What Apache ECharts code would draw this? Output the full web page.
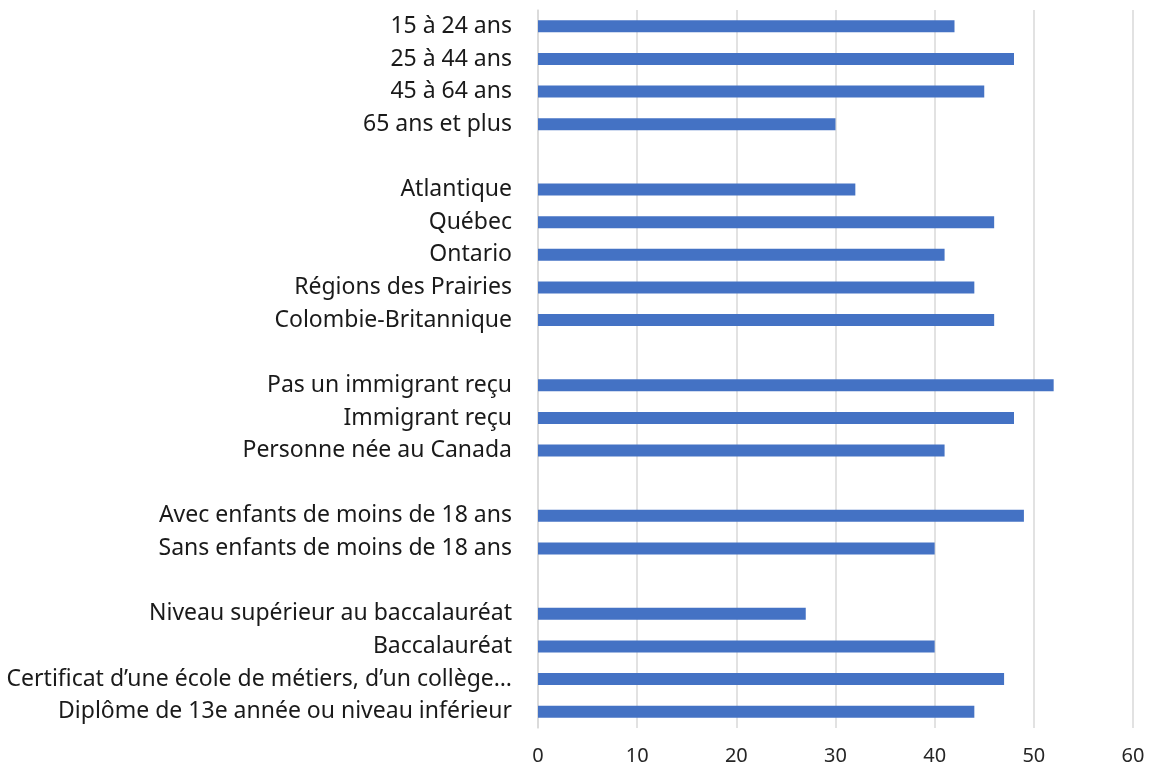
<!DOCTYPE html>
<html>
<head>
<meta charset="utf-8">
<script src="https://cdn.jsdelivr.net/npm/echarts@6/dist/echarts.min.js"></script>
<style>
  html, body { margin: 0; padding: 0; background: #fff; }
  #chart { width: 1150px; height: 767px; }
</style>
</head>
<body>
<div id="chart"></div>
<script>
  // categories top to bottom, '' = blank separator row
  const categories = [
    '15 à 24 ans', '25 à 44 ans', '45 à 64 ans', '65 ans et plus', '',
    'Atlantique', 'Québec', 'Ontario', 'Régions des Prairies', 'Colombie-Britannique', ' ',
    'Pas un immigrant reçu', 'Immigrant reçu', 'Personne née au Canada', '  ',
    'Avec enfants de moins de 18 ans', 'Sans enfants de moins de 18 ans', '   ',
    'Niveau supérieur au baccalauréat', 'Baccalauréat',
    'Certificat d’une école de métiers, d’un collège…',
    'Diplôme de 13e année ou niveau inférieur'
  ];
  const values = [
    42, 48, 45, 30, null,
    32, 46, 41, 44, 46, null,
    52, 48, 41, null,
    49, 40, null,
    27, 40, 47, 44
  ];
  const xTicks = { min: 0, max: 60, interval: 10 };

  const chart = echarts.init(document.getElementById('chart'));
  chart.setOption({
    animation: false,
    textStyle: { fontFamily: 'Noto Sans' },
    grid: { left: 538, right: 17, top: 10, bottom: 39, containLabel: false },
    xAxis: {
      type: 'value',
      min: xTicks.min,
      max: xTicks.max,
      interval: xTicks.interval,
      axisLine: { show: false },
      axisTick: { show: false },
      axisLabel: { color: '#262626', fontSize: 20, margin: 18 },
      splitLine: { lineStyle: { color: '#d9d9d9', width: 1.5 } }
    },
    yAxis: {
      type: 'category',
      inverse: true,
      data: categories,
      axisLine: { show: true, lineStyle: { color: '#d9d9d9', width: 1.5 } },
      axisTick: { show: false },
      axisLabel: { color: '#1a1a1a', fontSize: 23, margin: 26 }
    },
    series: [{
      type: 'bar',
      data: values,
      barWidth: 12,
      itemStyle: { color: '#4472c4' }
    }]
  });
</script>
</body>
</html>
